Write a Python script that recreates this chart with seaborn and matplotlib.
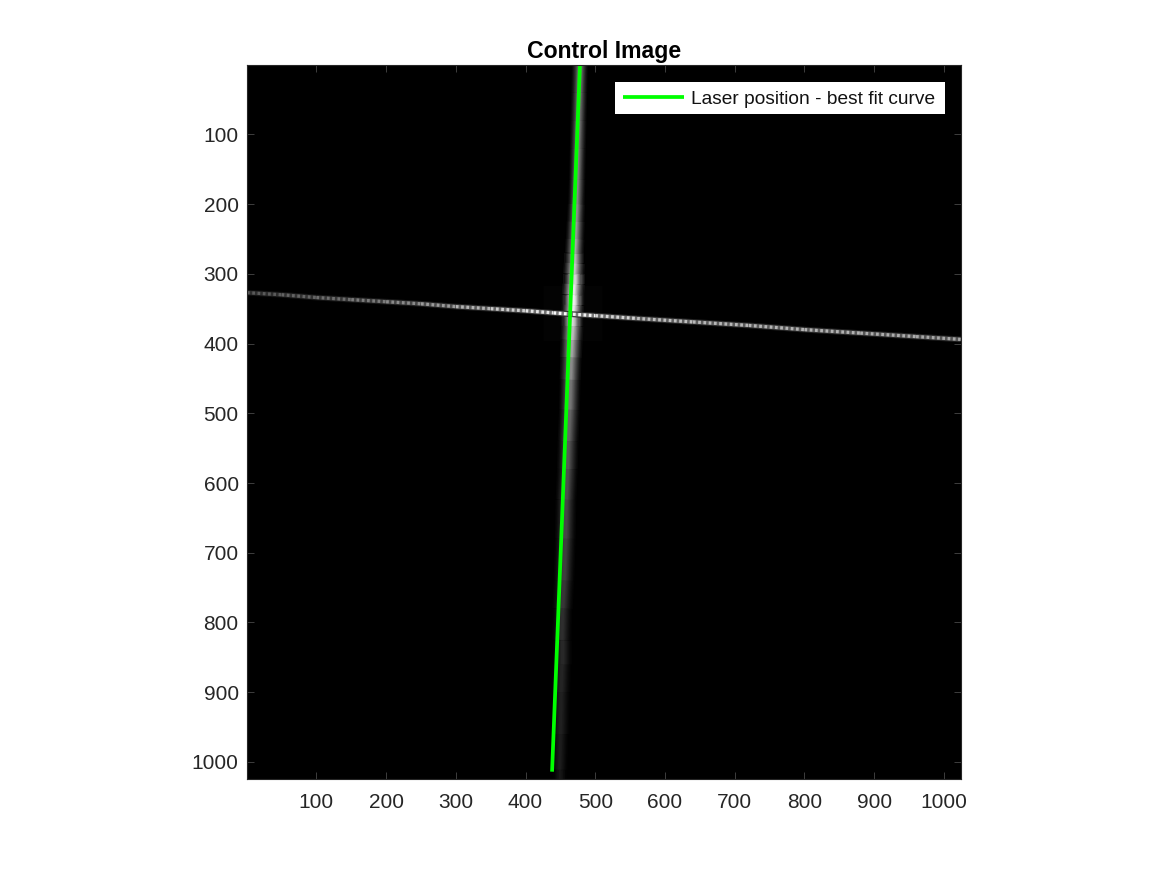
import matplotlib
matplotlib.use("Agg")
import matplotlib.pyplot as plt
from matplotlib.patches import Rectangle
from matplotlib.transforms import IdentityTransform
import seaborn as sns
import pandas as pd

# Best-fit laser line (image column, image row)
fit_x = [478, 438]
fit_y = [0.5, 1014]
fit_label = "Laser position - best fit curve"
title = "Control Image"
ticks = [100, 200, 300, 400, 500, 600, 700, 800, 900, 1000]

# Vertical streak
streak_y = [0, 40, 80, 120, 165, 200, 225, 250, 270, 285, 300, 315, 330, 345, 360, 375, 395, 420, 452, 495, 540, 580, 624, 680, 740, 780, 825, 860, 900, 960, 1011, 1024]
streak_x = [478, 477, 476, 475, 474, 473, 472, 471, 470, 470, 469, 469, 468, 468, 467, 467, 466, 465, 464, 463, 461, 460, 458, 457, 455, 453, 452, 452, 451, 450, 449, 449]
streak_w = [20, 20, 20, 20, 20, 21, 22, 23, 24, 26, 27, 28, 28, 28, 28, 28, 28, 27, 26, 26, 26, 26, 26, 26, 26, 25, 24, 24, 24, 22, 18, 16]
streak_v = [115, 118, 120, 125, 130, 135, 145, 155, 170, 185, 200, 220, 235, 240, 225, 200, 175, 150, 125, 108, 92, 82, 74, 66, 58, 50, 42, 38, 33, 30, 25, 18]

# Horizontal line
line_x = [0.5, 50, 100, 150, 200, 250, 300, 350, 400, 440, 468, 500, 560, 640, 720, 800, 880, 960, 1024]
line_y = [327, 330, 334, 337, 340, 343, 347, 350, 353, 356, 358, 360, 364, 369, 374, 380, 385, 390, 394]
line_v = [85, 95, 105, 115, 130, 145, 165, 195, 215, 245, 255, 230, 195, 185, 180, 180, 175, 170, 165]

# Faint halo around the crossing
halo_x = [425, 510]
halo_y = [356, 356]

W, H = 1167, 875
L, R, T, B = 247, 961, 65, 779
sns.set_theme(style="white")
plt.rcParams["font.family"] = ["Liberation Sans", "DejaVu Sans"]
dark = "#262626"

fig = plt.figure(figsize=(W / 100, H / 100), dpi=100)
ax = fig.add_axes([L / W, 1 - B / H, (R - L) / W, (B - T) / H])
ax.set_facecolor("black")
pt_per_unit = (R - L) / 1024 * 0.72


def grey(v):
    v = min(max(v / 255, 0), 1)
    return (v, v, v)


def seg(xs, ys, color, lw, **kw):
    d = pd.DataFrame({"x": xs, "y": ys})
    return sns.lineplot(data=d, x="x", y="y", ax=ax, color=color, linewidth=lw,
                        estimator=None, sort=False, legend=False,
                        solid_capstyle="butt", **kw)


# halo
seg(halo_x, halo_y, grey(3), 55 * 0.72)

# streak, painted from the faint outside to the bright core
layers = [(1.15, 0.07), (1.0, 0.16), (0.88, 0.26), (0.76, 0.38), (0.64, 0.5),
          (0.52, 0.64), (0.4, 0.78), (0.28, 0.9), (0.18, 1.0)]
for frac, gain in layers:
    for i in range(len(streak_y) - 1):
        seg(streak_x[i:i + 2], streak_y[i:i + 2],
            grey((streak_v[i] + streak_v[i + 1]) / 2 * gain),
            (streak_w[i] + streak_w[i + 1]) / 2 * frac * pt_per_unit)

# horizontal line: soft base with a beaded core
for i in range(len(line_x) - 1):
    v = (line_v[i] + line_v[i + 1]) / 2
    seg(line_x[i:i + 2], line_y[i:i + 2], grey(v * 0.18), 4.2)
    seg(line_x[i:i + 2], line_y[i:i + 2], grey(v * 0.5), 2.8)
    seg(line_x[i:i + 2], line_y[i:i + 2], grey(v), 2.3, linestyle=(0, (0.85, 0.8)))

# fit
seg(fit_x, fit_y, "#00ff00", 2.7, label=fit_label)

ax.set_xlim(0.5, 1024.5)
ax.set_ylim(1024.5, 0.5)
ax.set_xticks(ticks)
ax.set_yticks(ticks)
ax.set_xlabel("")
ax.set_ylabel("")
ax.tick_params(axis="both", which="major", direction="in", length=5, width=0.6,
               color="#484848", labelcolor=dark, labelsize=15, pad=6,
               top=True, right=True, bottom=True, left=True)
ax.tick_params(axis="x", pad=10)
for s in ax.spines.values():
    s.set_color(dark)
    s.set_linewidth(0.8)
    s.set_visible(True)

ax.set_title(title, fontsize=16.6, fontweight="bold", color="black", pad=5)

# legend box in figure pixels, legend entry on top of it
ax.add_patch(Rectangle((615, H - 114), 330, 32, transform=IdentityTransform(),
                       facecolor="white", edgecolor="none", zorder=4.5, clip_on=False))
leg = ax.legend(loc="center left", bbox_to_anchor=((623 - L) / (R - L), (B - 99) / (B - T)),
                borderaxespad=0, frameon=False, fontsize=13.75,
                handlelength=3.2, handletextpad=0.36, borderpad=0)
for t in leg.get_texts():
    t.set_color("#111111")

fig.savefig("out.png", dpi=100, facecolor="white")
